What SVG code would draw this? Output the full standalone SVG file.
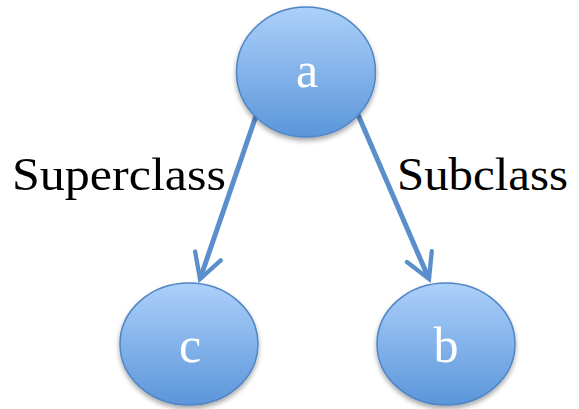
<svg xmlns="http://www.w3.org/2000/svg" width="579" height="409" viewBox="0 0 579 409">
  <defs>
    <linearGradient id="nodeFill" x1="0" y1="0" x2="0" y2="1">
      <stop offset="0" stop-color="#acd0fa"/>
      <stop offset="1" stop-color="#5b96da"/>
    </linearGradient>
    <filter id="shadow" x="-20%" y="-20%" width="140%" height="150%">
      <feGaussianBlur in="SourceAlpha" stdDeviation="2.5"/>
      <feOffset dy="3" result="b"/>
      <feComponentTransfer><feFuncA type="linear" slope="0.35"/></feComponentTransfer>
      <feMerge><feMergeNode/><feMergeNode in="SourceGraphic"/></feMerge>
    </filter>
    <marker id="arrow" viewBox="0 0 12 12" refX="10" refY="6" markerWidth="6.5" markerHeight="6.5" orient="auto" markerUnits="strokeWidth">
      <path d="M1,1 L10,6 L1,11" fill="none" stroke="#5b8fcb" stroke-width="1.6" stroke-linecap="round" stroke-linejoin="miter"/>
    </marker>
  </defs>
  <style>
    .node { fill: url(#nodeFill); stroke: #4f85c4; stroke-width: 1.5; filter: url(#shadow); }
    .nlabel { font-family: "Liberation Serif", "DejaVu Serif", serif; font-size: 50px; fill: #ffffff; text-anchor: middle; }
    .elabel { font-family: "Liberation Serif", "DejaVu Serif", serif; font-size: 47px; fill: #000000; }
    .edge { stroke: #5b8fcb; stroke-width: 5; fill: none; marker-end: url(#arrow); }
  </style>

  <g id="edges">
    <line class="edge" x1="258" y1="110" x2="200" y2="279"/>
    <line class="edge" x1="356" y1="110" x2="429" y2="279"/>
    <text class="elabel" x="12" y="190" textLength="214" lengthAdjust="spacingAndGlyphs">Superclass</text>
    <text class="elabel" x="397" y="190" textLength="171" lengthAdjust="spacingAndGlyphs">Subclass</text>
  </g>

  <g id="node-a">
    <ellipse class="node" cx="306" cy="72" rx="69.5" ry="65"/>
    <text class="nlabel" x="307" y="87">a</text>
  </g>
  <g id="node-c">
    <ellipse class="node" cx="189" cy="344" rx="69" ry="61"/>
    <text class="nlabel" x="190" y="362">c</text>
  </g>
  <g id="node-b">
    <ellipse class="node" cx="446" cy="344" rx="69" ry="61"/>
    <text class="nlabel" x="446" y="362">b</text>
  </g>
</svg>
